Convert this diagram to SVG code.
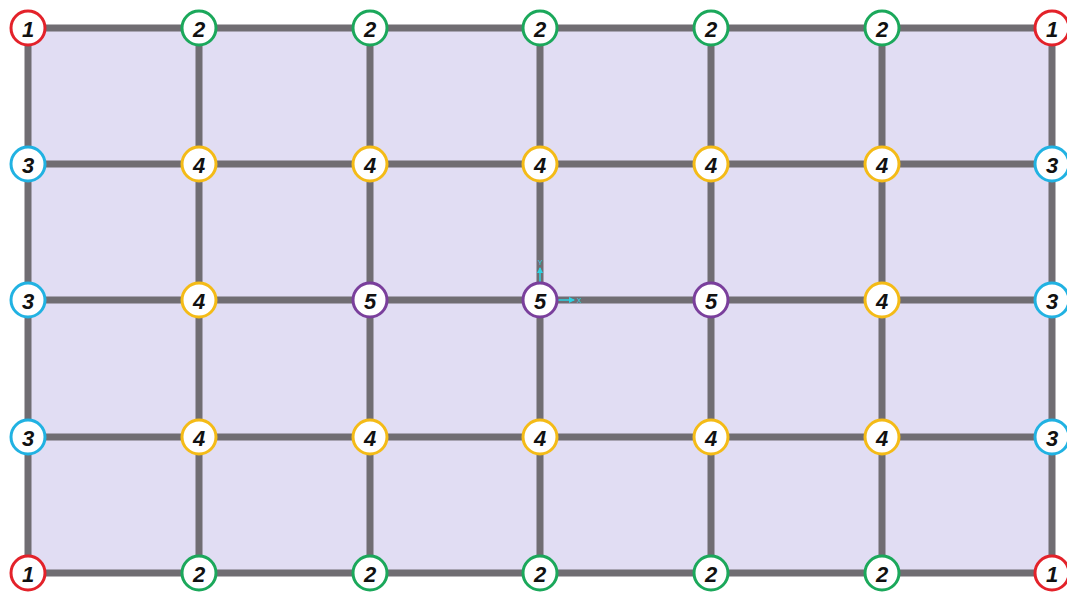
<svg xmlns="http://www.w3.org/2000/svg" width="1067" height="594" viewBox="0 0 1067 594">
<defs>
<style>
.ln{stroke:#706d72;stroke-width:7;fill:none}
.n circle{fill:#fff;stroke-width:3}
.n text{font-family:"Liberation Sans",Arial,sans-serif;font-weight:bold;font-style:italic;font-size:22px;fill:#111;text-anchor:middle;dominant-baseline:central}
.c1 circle{stroke:#e3222a}
.c2 circle{stroke:#1ba85b}
.c3 circle{stroke:#21b2e2}
.c4 circle{stroke:#f4bb17}
.c5 circle{stroke:#7a3f9c}
.ax{stroke:#2bd3e3;stroke-width:1.5;fill:none}
.axt{font-family:"Liberation Sans",Arial,sans-serif;font-size:7px;fill:#2bd3e3;text-anchor:middle;dominant-baseline:central}
</style>
<marker id="ah" markerWidth="6" markerHeight="6" refX="5" refY="3" orient="auto" markerUnits="userSpaceOnUse"><path d="M0,0 L6,3 L0,6 Z" fill="#2bd3e3"/></marker>
</defs>
<rect width="1067" height="594" fill="#fff"/>
<rect x="28" y="28" width="1024" height="545" fill="#e1ddf3"/>
<g id="connectors">
<path class="ln" d="M28,28H1052M28,164H1052M28,300H1052M28,437H1052M28,573H1052"/>
<path class="ln" d="M28,28V573M199,28V573M370,28V573M540,28V573M711,28V573M882,28V573M1052,28V573"/>
</g>
<g id="axes">
<line class="ax" x1="540" y1="282" x2="540" y2="268" marker-end="url(#ah)"/>
<text class="axt" x="540" y="262">Y</text>
<line class="ax" x1="558" y1="300" x2="574" y2="300" marker-end="url(#ah)"/>
<text class="axt" x="579" y="300">X</text>
</g>
<g id="n-r0c0" class="n c1"><circle cx="28" cy="28" r="17"/><text x="28" y="29">1</text></g>
<g id="n-r0c1" class="n c2"><circle cx="199" cy="28" r="17"/><text x="199" y="29">2</text></g>
<g id="n-r0c2" class="n c2"><circle cx="370" cy="28" r="17"/><text x="370" y="29">2</text></g>
<g id="n-r0c3" class="n c2"><circle cx="540" cy="28" r="17"/><text x="540" y="29">2</text></g>
<g id="n-r0c4" class="n c2"><circle cx="711" cy="28" r="17"/><text x="711" y="29">2</text></g>
<g id="n-r0c5" class="n c2"><circle cx="882" cy="28" r="17"/><text x="882" y="29">2</text></g>
<g id="n-r0c6" class="n c1"><circle cx="1052" cy="28" r="17"/><text x="1052" y="29">1</text></g>
<g id="n-r1c0" class="n c3"><circle cx="28" cy="164" r="17"/><text x="28" y="165">3</text></g>
<g id="n-r1c1" class="n c4"><circle cx="199" cy="164" r="17"/><text x="199" y="165">4</text></g>
<g id="n-r1c2" class="n c4"><circle cx="370" cy="164" r="17"/><text x="370" y="165">4</text></g>
<g id="n-r1c3" class="n c4"><circle cx="540" cy="164" r="17"/><text x="540" y="165">4</text></g>
<g id="n-r1c4" class="n c4"><circle cx="711" cy="164" r="17"/><text x="711" y="165">4</text></g>
<g id="n-r1c5" class="n c4"><circle cx="882" cy="164" r="17"/><text x="882" y="165">4</text></g>
<g id="n-r1c6" class="n c3"><circle cx="1052" cy="164" r="17"/><text x="1052" y="165">3</text></g>
<g id="n-r2c0" class="n c3"><circle cx="28" cy="300" r="17"/><text x="28" y="301">3</text></g>
<g id="n-r2c1" class="n c4"><circle cx="199" cy="300" r="17"/><text x="199" y="301">4</text></g>
<g id="n-r2c2" class="n c5"><circle cx="370" cy="300" r="17"/><text x="370" y="301">5</text></g>
<g id="n-r2c3" class="n c5"><circle cx="540" cy="300" r="17"/><text x="540" y="301">5</text></g>
<g id="n-r2c4" class="n c5"><circle cx="711" cy="300" r="17"/><text x="711" y="301">5</text></g>
<g id="n-r2c5" class="n c4"><circle cx="882" cy="300" r="17"/><text x="882" y="301">4</text></g>
<g id="n-r2c6" class="n c3"><circle cx="1052" cy="300" r="17"/><text x="1052" y="301">3</text></g>
<g id="n-r3c0" class="n c3"><circle cx="28" cy="437" r="17"/><text x="28" y="438">3</text></g>
<g id="n-r3c1" class="n c4"><circle cx="199" cy="437" r="17"/><text x="199" y="438">4</text></g>
<g id="n-r3c2" class="n c4"><circle cx="370" cy="437" r="17"/><text x="370" y="438">4</text></g>
<g id="n-r3c3" class="n c4"><circle cx="540" cy="437" r="17"/><text x="540" y="438">4</text></g>
<g id="n-r3c4" class="n c4"><circle cx="711" cy="437" r="17"/><text x="711" y="438">4</text></g>
<g id="n-r3c5" class="n c4"><circle cx="882" cy="437" r="17"/><text x="882" y="438">4</text></g>
<g id="n-r3c6" class="n c3"><circle cx="1052" cy="437" r="17"/><text x="1052" y="438">3</text></g>
<g id="n-r4c0" class="n c1"><circle cx="28" cy="573" r="17"/><text x="28" y="574">1</text></g>
<g id="n-r4c1" class="n c2"><circle cx="199" cy="573" r="17"/><text x="199" y="574">2</text></g>
<g id="n-r4c2" class="n c2"><circle cx="370" cy="573" r="17"/><text x="370" y="574">2</text></g>
<g id="n-r4c3" class="n c2"><circle cx="540" cy="573" r="17"/><text x="540" y="574">2</text></g>
<g id="n-r4c4" class="n c2"><circle cx="711" cy="573" r="17"/><text x="711" y="574">2</text></g>
<g id="n-r4c5" class="n c2"><circle cx="882" cy="573" r="17"/><text x="882" y="574">2</text></g>
<g id="n-r4c6" class="n c1"><circle cx="1052" cy="573" r="17"/><text x="1052" y="574">1</text></g>
</svg>
